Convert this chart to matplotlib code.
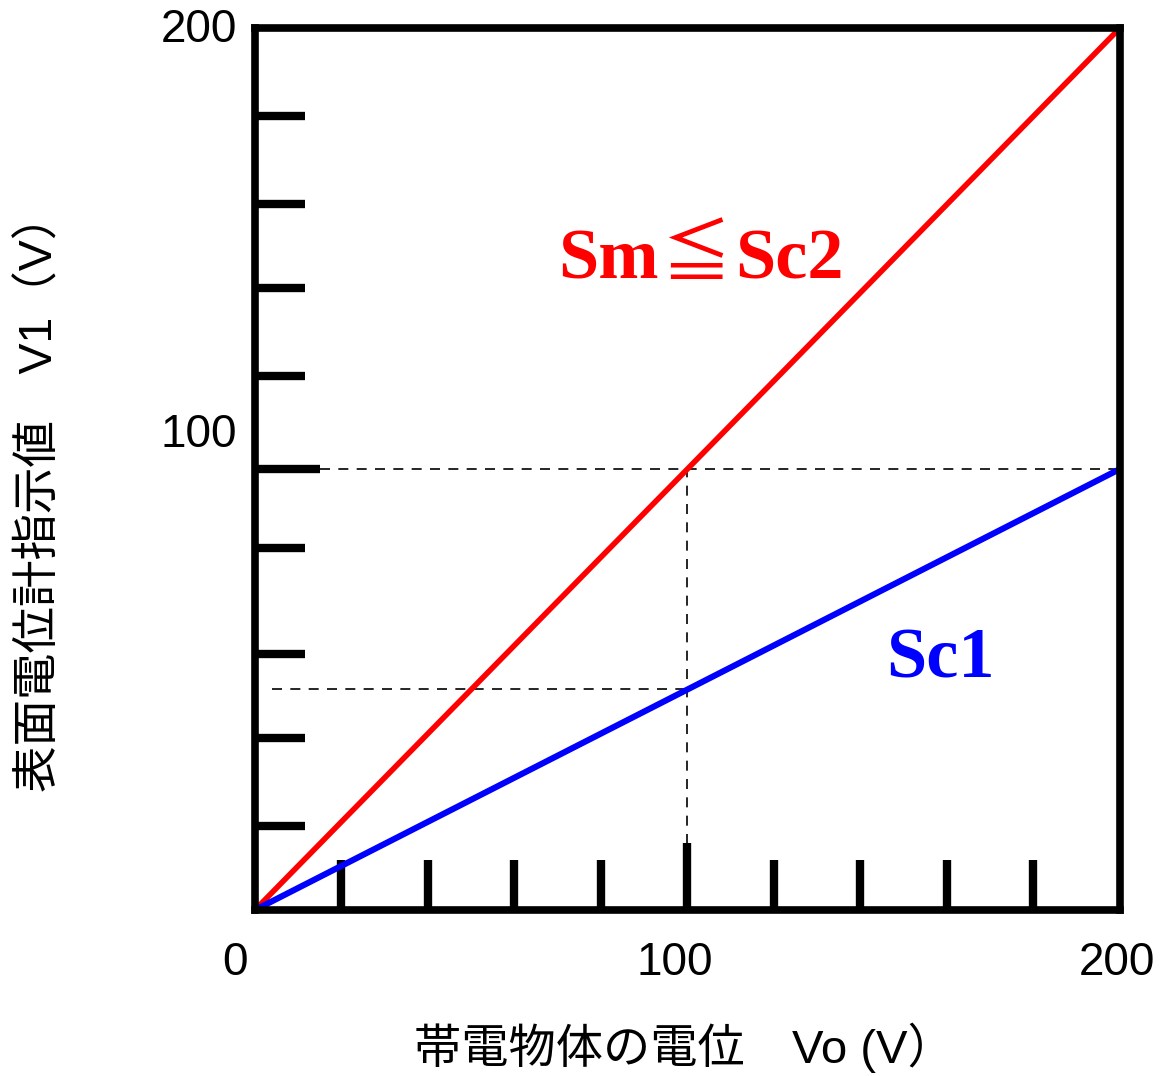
import matplotlib
matplotlib.use("Agg")
import matplotlib.pyplot as plt

# data
vo = [0, 200]
v1_sc2 = [0, 200]     # Sm <= Sc2
v1_sc1 = [0, 100]     # Sc1

x_minor = [20, 40, 60, 80, 120, 140, 160, 180]
x_major = [100]
y_minor = [19, 39, 58, 82, 121, 141, 160, 180]
y_major = [100]

x_ticklabels = ["0", "100", "200"]
x_tickpos = [-4.6, 97, 199.3]
y_ticklabels = ["100", "200"]
y_tickpos = [107.7, 199.5]

guide_h = [(15, 200, 100), (4, 100, 50)]   # (x0, x1, y)
guide_v = [(100, 15, 100)]                 # (x, y0, y1)

sans = ["Liberation Sans", "Noto Sans CJK JP"]
serif = ["Liberation Serif", "DejaVu Serif"]

fig = plt.figure(figsize=(11.6, 10.76), dpi=100)
ax = fig.add_axes([0.2198, 0.1543, 0.7457, 0.8197])
ax.set_xlim(0, 200)
ax.set_ylim(0, 200)

for s in ax.spines.values():
    s.set_linewidth(5.5)

ax.set_xticks(x_major)
ax.set_xticks(x_minor, minor=True)
ax.set_yticks(y_major)
ax.set_yticks(y_minor, minor=True)
ax.tick_params(which="both", direction="in", width=6, labelleft=False,
               labelbottom=False, top=False, right=False)
ax.tick_params(axis="x", which="major", length=48)
ax.tick_params(axis="x", which="minor", length=36)
ax.tick_params(axis="y", which="major", length=47)
ax.tick_params(axis="y", which="minor", length=36)

# guide lines
for x0, x1, y in guide_h:
    ax.plot([x0, x1], [y, y], color="black", lw=1.2, dashes=(6, 5))
for x, y0, y1 in guide_v:
    ax.plot([x, x], [y0, y1], color="black", lw=1.2, dashes=(6, 5))

ax.plot(vo, v1_sc2, color="#ff0000", lw=4.0, clip_on=False, solid_capstyle="butt")
ax.plot(vo, v1_sc1, color="#0000ff", lw=4.4, clip_on=False, solid_capstyle="butt")

# tick labels
for lab, xp in zip(x_ticklabels, x_tickpos):
    ax.text(xp, -12, lab, ha="center", va="center", fontsize=33,
            family=sans, clip_on=False)
for lab, yp in zip(y_ticklabels, y_tickpos):
    ax.text(-4.2, yp, lab, ha="right", va="center", fontsize=33,
            family=sans, clip_on=False)

# annotations
ax.text(93.4, 143.3, "Sm", ha="right", va="baseline", fontsize=52,
        fontweight="bold", family=serif, color="#ff0000")
ax.text(102, 143.8, "≦", ha="center", va="baseline", fontsize=50,
        family=["Noto Sans CJK JP", "DejaVu Sans"], color="#ff0000")
ax.text(111, 143.3, "Sc2", ha="left", va="baseline", fontsize=52,
        fontweight="bold", family=serif, color="#ff0000")
ax.text(158.4, 52.8, "Sc1", ha="center", va="baseline", fontsize=52,
        fontweight="bold", family=serif, color="#0000ff")

# axis labels
fig.text(0.5897, 0.026, "帯電物体の電位\u3000Vo (V）", ha="center", va="center",
         fontsize=34, family=sans)
fig.text(0.0345, 0.5427, "表面電位計指示値\u3000V1（V）", ha="center", va="center",
         fontsize=33.5, family=sans, rotation=90)

fig.savefig("out.png", dpi=100)
